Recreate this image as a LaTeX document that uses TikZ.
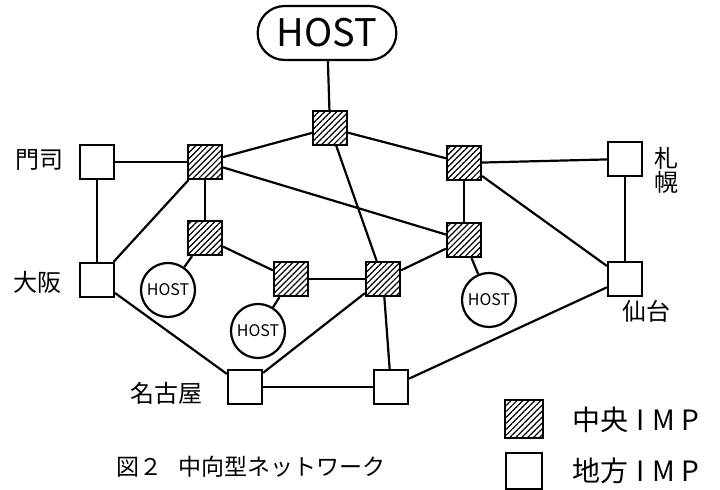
\documentclass[tikz,border=0pt]{standalone}
\usepackage{fontspec}
\newfontfamily\jp{Noto Sans CJK JP}
\usetikzlibrary{shapes.misc, patterns.meta}

\begin{document}
\begin{tikzpicture}[x=0.5pt, y=-0.5pt, line width=1.1pt,
    central/.style={draw, minimum size=17pt, inner sep=0pt,
      pattern={Lines[angle=45, distance=2.1pt, line width=0.6pt]}},
    regional/.style={draw, fill=white, minimum size=17pt, inner sep=0pt},
    hostc/.style={draw, circle, fill=white, minimum size=27pt, inner sep=0pt,
      font=\jp\fontsize{8}{8}\selectfont\itshape},
    city/.style={font=\jp\fontsize{12}{12}\selectfont, inner sep=1pt}]
  \useasboundingbox (0, 0) rectangle (720, 490);

  % Host
  \node[draw, rounded rectangle, minimum width=76pt, minimum height=27pt,
    font=\jp\fontsize{19}{19}\selectfont] (host) at (327, 33) {HOST};

  % Central IMPs
  \node[central] (top) at (330, 128) {};
  \node[central] (c1) at (205, 162) {};
  \node[central] (c2) at (464, 163) {};
  \node[central] (c3) at (205, 238) {};
  \node[central] (c4) at (464, 240) {};
  \node[central] (c5) at (291, 279) {};
  \node[central] (c6) at (383, 279) {};

  % Regional IMPs
  \node[regional] (moji) at (97, 162) {};
  \node[regional] (sapporo) at (625, 159) {};
  \node[regional] (osaka) at (97, 280) {};
  \node[regional] (sendai) at (625, 279) {};
  \node[regional] (nagoya) at (245, 387) {};
  \node[regional] (south) at (391, 387) {};

  % Local hosts
  \node[hostc] (h1) at (168, 290) {HOST};
  \node[hostc] (h2) at (258, 331) {HOST};
  \node[hostc] (h3) at (489, 300) {HOST};

  % City labels
  \node[city] (lmoji) at (40, 160) {門司};
  \node[city, align=center] (lsapporo) at (666, 170) {札\\幌};
  \node[city] (losaka) at (37, 282) {大阪};
  \node[city] (lsendai) at (647, 311) {仙台};
  \node[city] (lnagoya) at (167, 393) {名古屋};

  % Links
  \draw (host) -- (top);
  \draw (top) -- (c1);
  \draw (top) -- (c2);
  \draw (top) -- (c6);
  \draw (c6) -- (south);
  \draw (moji) -- (c1);
  \draw (moji) -- (osaka);
  \draw (c1) -- (c3);
  \draw (c1) -- (osaka);
  \draw (c1) -- (c4);
  \draw (c2) -- (sapporo);
  \draw (c2) -- (c4);
  \draw (c2) -- (sendai);
  \draw (sapporo) -- (sendai);
  \draw (c3) -- (h1);
  \draw (c3) -- (c5);
  \draw (c5) -- (h2);
  \draw (c5) -- (c6);
  \draw (c6) -- (c4);
  \draw (c6) -- (nagoya);
  \draw (c4) -- (h3);
  \draw (osaka) -- (nagoya);
  \draw (nagoya) -- (south);
  \draw (south) -- (sendai);

  % Legend
  \node[central, minimum size=19pt] (keyc) at (524, 419) {};
  \node[regional, minimum size=18pt] (keyr) at (524, 471) {};
  \node[anchor=west, font=\jp\fontsize{14}{14}\selectfont] (lkeyc)
    at (565, 420) {中央\hspace{4pt}I\hspace{4pt}M\hspace{3pt}P};
  \node[anchor=west, font=\jp\fontsize{14}{14}\selectfont] (lkeyr)
    at (565, 471) {地方\hspace{4pt}I\hspace{4pt}M\hspace{3pt}P};

  % Caption
  \node[font=\jp\fontsize{11.5}{12}\selectfont] (caption) at (251, 467)
    {図２\hspace{8pt}中向型ネットワーク};
\end{tikzpicture}
\end{document}
